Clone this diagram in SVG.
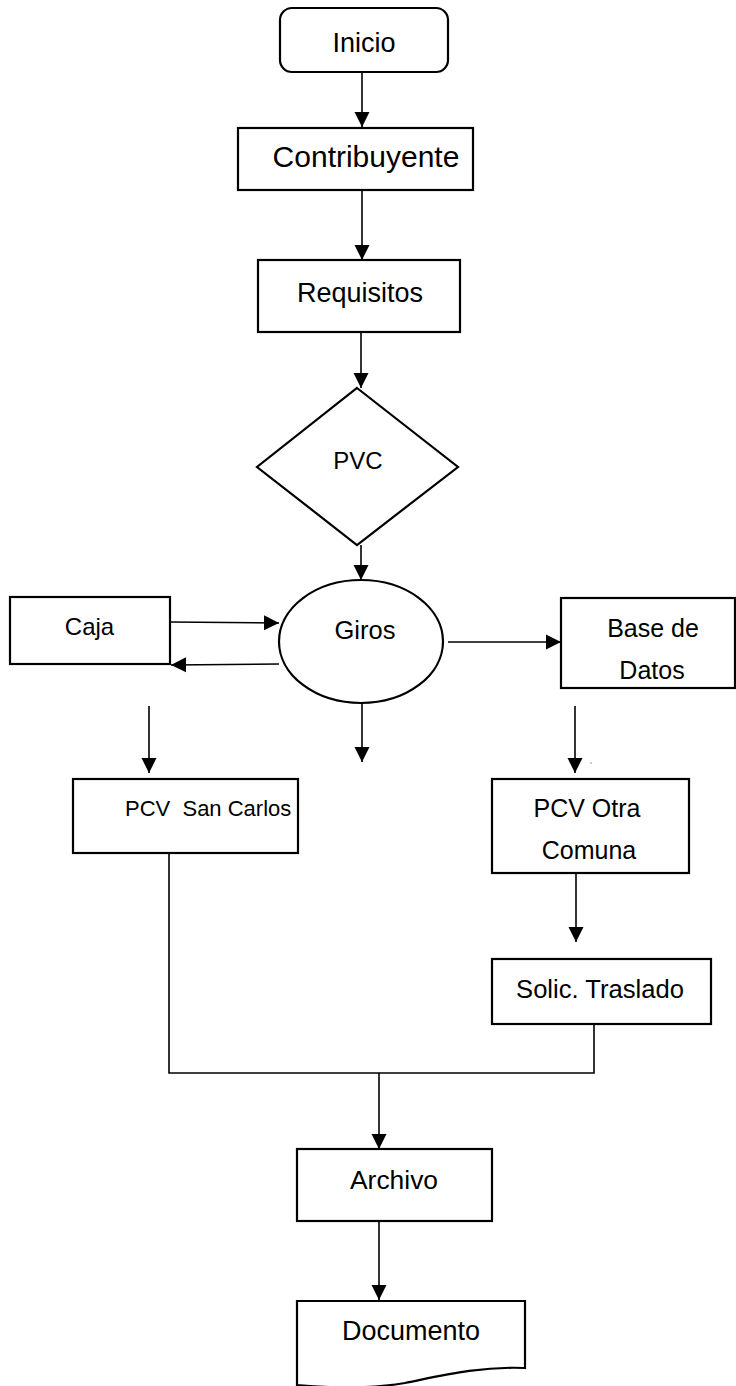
<svg xmlns="http://www.w3.org/2000/svg" width="736" height="1386" viewBox="0 0 736 1386">
<style>
.box{fill:#fff;stroke:#000;stroke-width:2.2}
.ln{fill:none;stroke:#000;stroke-width:1.6}
.t{font-family:"Liberation Sans",Arial,sans-serif;font-size:25px;fill:#000;text-anchor:middle}
</style>
<defs>
<marker id="ah" viewBox="0 0 16 16" markerWidth="15" markerHeight="16" refX="16" refY="8" orient="auto" markerUnits="userSpaceOnUse">
<path d="M0,0 L16,8 L0,16 Z" fill="#000"/>
</marker>
</defs>
<rect width="736" height="1386" fill="#fff"/>
<g id="connectors">
<line class="ln" x1="362" y1="72" x2="362" y2="127" marker-end="url(#ah)"/>
<line class="ln" x1="362" y1="190" x2="362" y2="260" marker-end="url(#ah)"/>
<line class="ln" x1="361" y1="333" x2="361" y2="388" marker-end="url(#ah)"/>
<line class="ln" x1="361" y1="545" x2="361" y2="580" marker-end="url(#ah)"/>
<line class="ln" x1="170" y1="622" x2="279" y2="623" marker-end="url(#ah)"/>
<line class="ln" x1="279" y1="664" x2="171" y2="665" marker-end="url(#ah)"/>
<line class="ln" x1="448" y1="642" x2="561" y2="642" marker-end="url(#ah)"/>
<line class="ln" x1="149" y1="706" x2="149" y2="773" marker-end="url(#ah)"/>
<line class="ln" x1="362" y1="703" x2="362" y2="762" marker-end="url(#ah)"/>
<line class="ln" x1="575" y1="706" x2="575" y2="773" marker-end="url(#ah)"/>
<line class="ln" x1="576" y1="873" x2="576" y2="942" marker-end="url(#ah)"/>
<polyline class="ln" points="169,853 169,1073 594,1073 594,1024"/>
<line class="ln" x1="379" y1="1073" x2="379" y2="1149" marker-end="url(#ah)"/>
<line class="ln" x1="379" y1="1221" x2="379" y2="1300" marker-end="url(#ah)"/>
<circle cx="591" cy="763" r="0.8" fill="#888"/>
</g>
<g id="inicio">
<rect class="box" x="280" y="8" width="168" height="64" rx="12"/>
<text class="t" x="364" y="52" style="font-size:27px">Inicio</text>
</g>
<g id="contribuyente">
<rect class="box" x="238" y="128" width="235" height="62"/>
<text class="t" x="366" y="167" style="font-size:30px">Contribuyente</text>
</g>
<g id="requisitos">
<rect class="box" x="258" y="260" width="202" height="72"/>
<text class="t" x="360" y="302" style="font-size:27px">Requisitos</text>
</g>
<g id="pvc">
<polygon class="box" points="357,388 458,467 357,545 257,467"/>
<text class="t" x="358" y="469" style="font-size:24px">PVC</text>
</g>
<g id="giros">
<ellipse class="box" cx="361" cy="641.5" rx="82" ry="61.5"/>
<text class="t" x="365" y="639" style="font-size:25.5px">Giros</text>
</g>
<g id="caja">
<rect class="box" x="10" y="597" width="160" height="67"/>
<text class="t" x="89.5" y="635" style="font-size:24px">Caja</text>
</g>
<g id="base-datos">
<rect class="box" x="561" y="598" width="174" height="90"/>
<text class="t" x="653" y="637">Base de</text>
<text class="t" x="652" y="679">Datos</text>
</g>
<g id="pcv-san-carlos">
<rect class="box" x="73" y="779" width="225" height="74"/>
<text class="t" x="125" y="816" style="font-size:22px;text-anchor:start;white-space:pre" xml:space="preserve">PCV  San Carlos</text>
</g>
<g id="pcv-otra-comuna">
<rect class="box" x="492" y="779" width="197" height="94"/>
<text class="t" x="587" y="817">PCV Otra</text>
<text class="t" x="589" y="859">Comuna</text>
</g>
<g id="solic-traslado">
<rect class="box" x="492" y="959" width="219" height="65"/>
<text class="t" x="600" y="998" style="font-size:25.6px">Solic. Traslado</text>
</g>
<g id="archivo">
<rect class="box" x="297" y="1149" width="195" height="72"/>
<text class="t" x="394" y="1189" style="font-size:26.4px">Archivo</text>
</g>
<g id="documento">
<path class="box" d="M297,1385 V1301 H525 V1368 C480,1366 440,1376 405,1383 C370,1389 330,1388 297,1385 Z"/>
<text class="t" x="342" y="1340" style="font-size:27px;text-anchor:start">Documento</text>
</g>
</svg>
